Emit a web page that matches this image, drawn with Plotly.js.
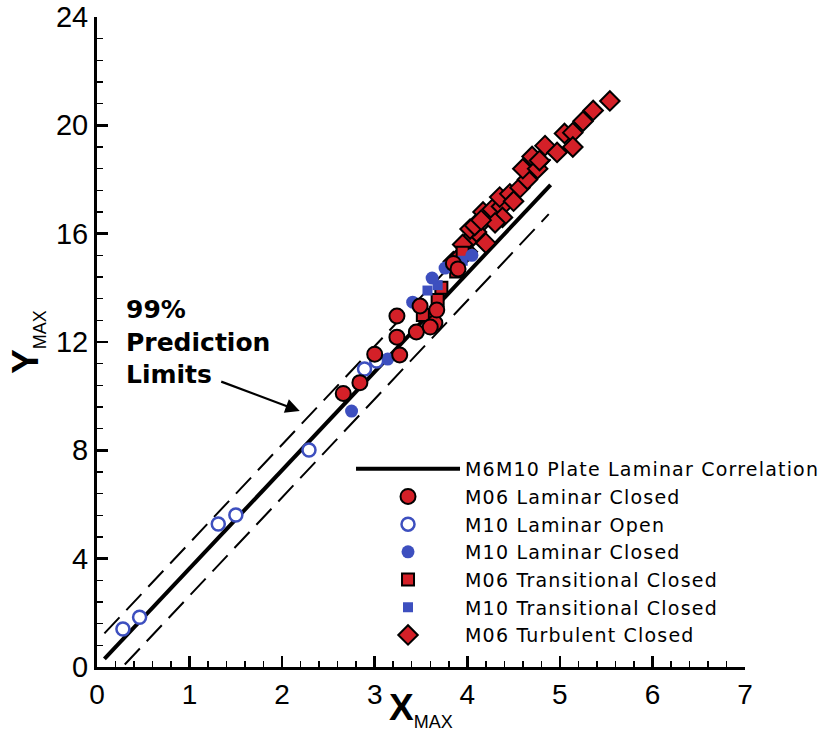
<!DOCTYPE html>
<html>
<head>
<meta charset="utf-8">
<script src="https://cdn.plot.ly/plotly-3.0.1.min.js"></script>
<style>html,body{margin:0;padding:0;background:#fff;}#chart{width:833px;height:744px;}</style>
</head>
<body>
<div id="chart"></div>
<script>
// Correlation and prediction-limit lines
const corrX = [0.08, 4.9];
const corrY = [0.3, 17.8];
const upperX = [0.08, 4.9];
const upperY = [1.24, 18.75];
const lowerX = [0.3, 4.88];
const lowerY = [0.09, 16.72];

// M06 Laminar Closed
const m06LamClosedX = [2.66, 2.84, 3.0, 3.27, 3.24, 3.24, 3.45, 3.49, 3.65, 3.67, 3.6, 3.85, 3.9];
const m06LamClosedY = [10.1, 10.5, 11.55, 11.52, 12.18, 12.96, 12.37, 13.33, 12.7, 13.18, 12.55, 14.9, 14.7];

// M10 Laminar Open
const m10LamOpenX = [0.28, 0.46, 1.31, 1.5, 2.29, 2.89, 3.02];
const m10LamOpenY = [1.4, 1.84, 5.28, 5.61, 8.01, 11.0, 11.3];

// M10 Laminar Closed
const m10LamClosedX = [2.75, 3.14, 3.41, 3.62, 3.76, 4.05];
const m10LamClosedY = [9.45, 11.37, 13.47, 14.36, 14.73, 15.2];

// M06 Transitional Closed
const m06TransX = [3.62, 3.68, 3.52, 3.72, 3.88, 3.95];
const m06TransY = [12.85, 13.55, 13.0, 14.0, 14.6, 15.3];

// M10 Transitional Closed
const m10TransX = [3.57, 3.68, 3.95];
const m10TransY = [13.9, 14.1, 15.0];

// M06 Turbulent Closed
const m06TurbX = [3.85, 3.92, 4.0, 4.03, 4.1, 4.03, 4.08, 4.17, 4.2, 4.27, 4.37, 4.38, 4.35, 4.46, 4.57, 4.65, 4.6, 4.7, 4.76, 4.84, 4.97, 5.05, 4.78, 5.14, 5.14, 5.25, 5.36, 5.54, 4.5, 4.3, 4.15, 3.95];
const m06TurbY = [14.97, 15.15, 15.33, 15.8, 16.06, 16.17, 16.3, 16.8, 15.65, 16.9, 17.0, 16.6, 17.35, 17.47, 17.7, 18.0, 18.4, 18.85, 18.4, 19.25, 19.0, 19.7, 18.7, 19.73, 19.2, 20.15, 20.55, 20.9, 17.2, 16.4, 16.5, 15.6];

// Legend labels
const seriesNames = ['M6M10 Plate Laminar Correlation', 'M06 Laminar Closed', 'M10 Laminar Open', 'M10 Laminar Closed',
  'M06 Transitional Closed', 'M10 Transitional Closed', 'M06 Turbulent Closed'];
const sp = (s) => '<span style="letter-spacing:1.2px">' + s + '</span>';

const RED = '#d42028';
const BLUE = '#3d4fbf';

const traces = [
  {x: upperX, y: upperY, mode: 'lines', line: {color: 'black', width: 2, dash: '22px,10px'}, showlegend: false, hoverinfo: 'skip'},
  {x: lowerX, y: lowerY, mode: 'lines', line: {color: 'black', width: 2, dash: '22px,10px'}, showlegend: false, hoverinfo: 'skip'},
  {x: corrX, y: corrY, mode: 'lines', name: sp(seriesNames[0]), legendrank: 1, line: {color: 'black', width: 4}},
  {x: m06TurbX, y: m06TurbY, mode: 'markers', name: sp(seriesNames[6]), legendrank: 7,
   marker: {symbol: 'diamond', size: 15, color: RED, line: {color: 'black', width: 2}}},
  {x: m06TransX, y: m06TransY, mode: 'markers', name: sp(seriesNames[4]), legendrank: 5,
   marker: {symbol: 'square', size: 12, color: RED, line: {color: 'black', width: 2}}},
  {x: m10TransX, y: m10TransY, mode: 'markers', name: sp(seriesNames[5]), legendrank: 6,
   marker: {symbol: 'square', size: 10, color: BLUE}},
  {x: m10LamClosedX, y: m10LamClosedY, mode: 'markers', name: sp(seriesNames[3]), legendrank: 4,
   marker: {symbol: 'circle', size: 13, color: BLUE}},
  {x: m10LamOpenX, y: m10LamOpenY, mode: 'markers', name: sp(seriesNames[2]), legendrank: 3,
   marker: {symbol: 'circle', size: 13, color: 'white', line: {color: BLUE, width: 2.5}}},
  {x: m06LamClosedX, y: m06LamClosedY, mode: 'markers', name: sp(seriesNames[1]), legendrank: 2,
   marker: {symbol: 'circle', size: 15, color: RED, line: {color: 'black', width: 2}}}
];

const layout = {
  width: 833, height: 744,
  margin: {l: 97, r: 88, t: 17, b: 77, autoexpand: false},
  paper_bgcolor: 'white', plot_bgcolor: 'white',
  showlegend: true,
  legend: {
    x: 0.392, y: 0.334, xanchor: 'left', yanchor: 'top',
    bgcolor: 'rgba(0,0,0,0)', borderwidth: 0,
    font: {family: 'DejaVu Sans', size: 19, color: 'black'},
    itemwidth: 104, tracegroupgap: 0, traceorder: 'normal'
  },
  xaxis: {
    range: [0, 7], dtick: 1, tick0: 0, automargin: false,
    showline: true, linecolor: 'black', linewidth: 3, mirror: false,
    showgrid: false, zeroline: false,
    ticks: 'inside', ticklen: 11, tickwidth: 2.5, tickcolor: 'black',
    minor: {dtick: 0.2, ticks: 'inside', ticklen: 6, tickwidth: 1.5, tickcolor: 'black', showgrid: false},
    tickfont: {family: 'Liberation Sans Narrow, Liberation Sans', size: 28, color: 'black'}
  },
  yaxis: {
    range: [0, 24], dtick: 4, tick0: 0, automargin: false,
    showline: true, linecolor: 'black', linewidth: 3, mirror: false,
    showgrid: false, zeroline: false,
    ticks: 'inside', ticklen: 11, tickwidth: 2.5, tickcolor: 'black',
    minor: {dtick: 0.8, ticks: 'inside', ticklen: 6, tickwidth: 1.5, tickcolor: 'black', showgrid: false},
    tickfont: {family: 'Liberation Sans', size: 29, color: 'black'},
    title: {text: '<b>Y</b><sub><span style="font-size:18px">MAX</span></sub>', font: {family: 'Liberation Sans', size: 37, color: 'black'}, standoff: 6}
  },
  annotations: [
    {x: 0.5, y: -0.066, xref: 'paper', yref: 'paper', xanchor: 'center', yanchor: 'middle', showarrow: false,
     text: '<b>X</b><sub><span style="font-size:18px">MAX</span></sub>',
     font: {family: 'Liberation Sans', size: 37, color: 'black'}},
    {x: 0.29, y: 13.8, xref: 'x', yref: 'y', xanchor: 'left', yanchor: 'top', align: 'left',
     text: '<b>99%<br>Prediction<br>Limits</b>', showarrow: false,
     font: {family: 'DejaVu Sans', size: 25, color: 'black'}},
    {x: 2.19, y: 9.45, xref: 'x', yref: 'y', text: '', showarrow: true,
     axref: 'pixel', ayref: 'pixel', ax: -80, ay: -30,
     arrowhead: 2, arrowsize: 1.3, arrowwidth: 2.2, arrowcolor: 'black'}
  ]
};

Plotly.newPlot('chart', traces, layout, {displayModeBar: false, staticPlot: true});
</script>
</body>
</html>
